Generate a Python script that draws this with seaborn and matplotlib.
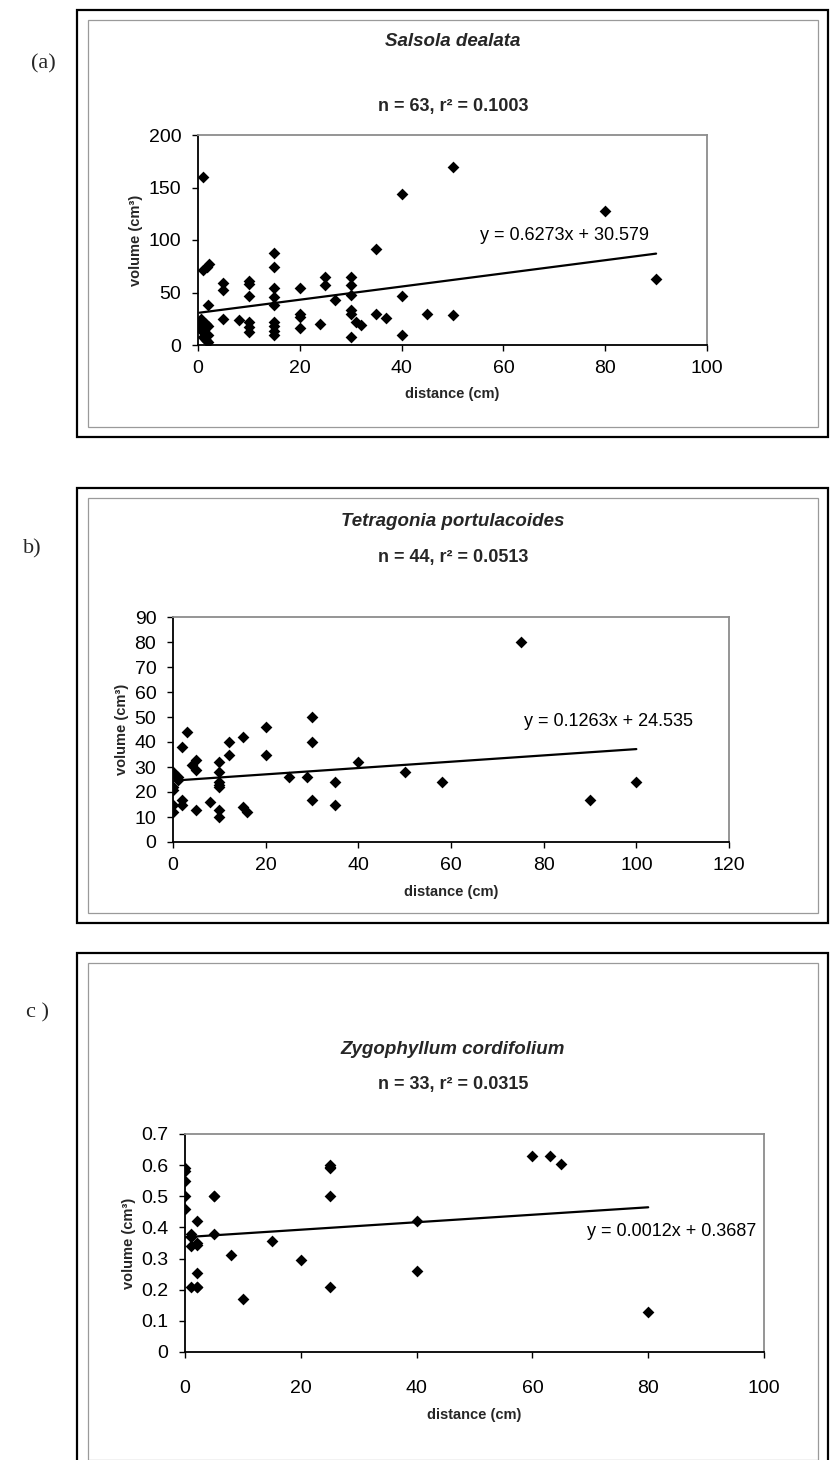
import matplotlib
matplotlib.use("Agg")
import matplotlib.pyplot as plt
import numpy as np
import pandas as pd
import seaborn as sns
from matplotlib.patches import Rectangle

# ---------------- data ----------------
# (a) Salsola dealata
sal_dist = [1, 1, 1.8, 2.2, 2,
            0.5, 1, 1.5, 2, 0.5, 1, 2, 1, 1.5, 2, 0.3, 1.2,
            5, 5, 5, 8,
            10, 10, 10, 10, 10, 10,
            15, 15, 15, 15, 15, 15, 15, 15, 15,
            20, 20, 20, 20,
            25, 25, 27, 24,
            30, 30, 30, 30, 30, 31, 32, 30,
            35, 35, 37, 40, 40, 40, 45, 50, 50, 80, 90]
sal_vol = [160, 71, 74, 77, 38,
           25, 22, 20, 18, 15, 12, 10, 8, 5, 3, 20, 14,
           59, 52, 25, 24,
           61, 58, 47, 22, 17, 12,
           88, 74, 54, 46, 38, 22, 18, 13, 10,
           54, 30, 27, 16,
           65, 57, 43, 20,
           65, 57, 48, 33, 30, 22, 19, 8,
           91, 30, 26, 144, 47, 10, 30, 170, 29, 128, 63]

# (b) Tetragonia portulacoides
tet_dist = [30, 30, 3, 2, 20, 20, 15, 12, 12, 10, 10, 5, 4, 5, 40, 50, 0, 1, 0, 2, 2,
            0, 0, 5, 8, 10, 10, 10, 10, 10, 15, 16, 25, 29, 35, 30, 35, 58, 90, 100,
            75, 0.5, 1, 0]
tet_vol = [50, 40, 44, 38, 46, 35, 42, 40, 35, 32, 28, 33, 31, 29, 32, 28, 28, 26, 22, 17, 15,
           15, 12, 13, 16, 22, 23, 24, 13, 10, 14, 12, 26, 26, 24, 17, 15, 24, 17, 24,
           80, 27, 25, 21]

# (c) Zygophyllum cordifolium
zyg_dist = [0, 0, 0, 0, 2, 1, 5, 5, 25, 25, 25, 15, 40, 60, 63, 65, 1, 2, 8, 20, 2,
            1, 2, 10, 25, 40, 80, 0, 2, 1, 25, 5, 2]
zyg_vol = [0.59, 0.55, 0.50, 0.46, 0.42, 0.38, 0.50, 0.38, 0.60, 0.59, 0.50, 0.355, 0.42,
           0.63, 0.63, 0.605, 0.34, 0.345, 0.31, 0.297, 0.255, 0.21, 0.21, 0.17, 0.21,
           0.26, 0.13, 0.58, 0.35, 0.37, 0.595, 0.50, 0.21]

species = ["Salsola dealata", "Tetragonia portulacoides", "Zygophyllum cordifolium"]
stats_text = ["n = 63, r\u00b2 = 0.1003", "n = 44, r\u00b2 = 0.0513", "n = 33, r\u00b2 = 0.0315"]
slopes = [0.6273, 0.1263, 0.0012]
intercepts = [30.579, 24.535, 0.3687]
eq_text = ["y = 0.6273x + 30.579", "y = 0.1263x + 24.535", "y = 0.0012x + 0.3687"]
panel_tags = ["(a)", "b)", "c )"]
x_ticks = [[0, 20, 40, 60, 80, 100], [0, 20, 40, 60, 80, 100, 120], [0, 20, 40, 60, 80, 100]]
y_ticks = [[0, 50, 100, 150, 200], list(range(0, 91, 10)), [0, 0.1, 0.2, 0.3, 0.4, 0.5, 0.6, 0.7]]
y_ticklabels = [None, None, ["0", "0.1", "0.2", "0.3", "0.4", "0.5", "0.6", "0.7"]]

# ---------------- layout (pixels) ----------------
W, H = 830, 1460
def fx(px): return px / W
def fy(py): return 1 - py / H

sns.set_theme(style="white")
plt.rcParams['font.family'] = ['Liberation Sans', 'DejaVu Sans']

fig = plt.figure(figsize=(8.3, 14.6), dpi=100)
fig.patch.set_facecolor('white')

# outer boxes: (top, bottom), axes boxes: (left, right, top, bottom)
boxes = [(10, 437), (488, 923), (953, 1470)]
ax_px = [(198, 707, 135, 345), (173, 729, 617, 842), (185, 764, 1134, 1352)]
title_y = [42, 522, 1050]
stats_y = [107, 558, 1084]
tag_pos = [(43, 64), (32, 549), (38, 1013)]
eq_pos = [(72, 104), (94, 48), (84, 0.387)]
xpad = [7, 7, 16]
xlabpad = [7, 8, 8]

sets = [(sal_dist, sal_vol), (tet_dist, tet_vol), (zyg_dist, zyg_vol)]

for i, (dist, vol) in enumerate(sets):
    top, bot = boxes[i]
    fig.patches.append(Rectangle((fx(77), fy(bot)), fx(828) - fx(77), (bot - top) / H,
                                 transform=fig.transFigure, fill=False, ec='black', lw=1.6))
    fig.patches.append(Rectangle((fx(88), fy(bot - 10)), fx(818) - fx(88), (bot - top - 20) / H,
                                 transform=fig.transFigure, fill=False, ec='#9a9a9a', lw=0.9))

    l, r, t, b = ax_px[i]
    ax = fig.add_axes([fx(l), fy(b), fx(r) - fx(l), (b - t) / H])
    df = pd.DataFrame({'distance': dist, 'volume': vol})
    sns.scatterplot(data=df, x='distance', y='volume', marker='D', color='black',
                    s=36, linewidth=0, ax=ax, legend=False, zorder=3)
    xs = np.array([df['distance'].min(), df['distance'].max()])
    ax.plot(xs, slopes[i] * xs + intercepts[i], color='black', lw=1.6, zorder=2)

    ax.set_xlim(x_ticks[i][0], x_ticks[i][-1])
    ax.set_ylim(y_ticks[i][0], y_ticks[i][-1])
    ax.set_xticks(x_ticks[i])
    ax.set_yticks(y_ticks[i])
    if y_ticklabels[i] is not None:
        ax.set_yticklabels(y_ticklabels[i])
    ax.set_xlabel('distance (cm)', fontsize=10.5, fontweight='bold', labelpad=xlabpad[i])
    ax.set_ylabel('volume (cm\u00b3)', fontsize=10.5, fontweight='bold', labelpad=4)
    for side in ['left', 'bottom']:
        ax.spines[side].set_color('black')
        ax.spines[side].set_linewidth(1.3)
    for side in ['top', 'right']:
        ax.spines[side].set_color('#8c8c8c')
        ax.spines[side].set_linewidth(1.3)
    ax.tick_params(axis='both', bottom=True, left=True, direction='out', length=4,
                   width=1, colors='black', labelsize=14)
    ax.tick_params(axis='x', pad=xpad[i])
    ax.tick_params(axis='y', pad=8)

    ax.text(eq_pos[i][0], eq_pos[i][1], eq_text[i], ha='center', va='center', fontsize=13,
            color='black')

    fig.text(fx(453), fy(title_y[i]), species[i], ha='center', va='center', fontsize=13.5,
             fontweight='bold', style='italic')
    fig.text(fx(453), fy(stats_y[i]), stats_text[i], ha='center', va='center', fontsize=13,
             fontweight='bold')
    fig.text(fx(tag_pos[i][0]), fy(tag_pos[i][1]), panel_tags[i], ha='center', va='center',
             fontsize=16, family=['Liberation Serif', 'DejaVu Serif'])

fig.savefig('out.png', dpi=100, facecolor='white')
